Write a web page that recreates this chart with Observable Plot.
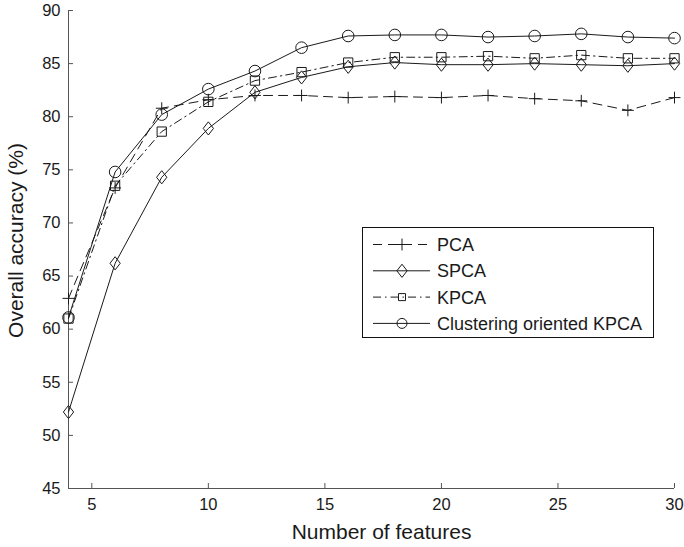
<!DOCTYPE html>
<html>
<head>
<meta charset="utf-8">
<script src="https://cdn.jsdelivr.net/npm/d3@7"></script>
<script src="https://cdn.jsdelivr.net/npm/@observablehq/plot@0.6"></script>
<style>
  body { margin: 0; background: #fff; }
  #wrap { position: relative; width: 684px; height: 547px; font-family: "Liberation Sans", Arial, sans-serif; }
  #legend { position: absolute; left: 362px; top: 227px; }
</style>
</head>
<body>
<div id="wrap"></div>
<script>
const features = [4, 6, 8, 10, 12, 14, 16, 18, 20, 22, 24, 26, 28, 30];
const seriesNames = ["PCA", "SPCA", "KPCA", "Clustering oriented KPCA"];
const pca   = [62.9, 73.3, 80.8, 81.6, 82.0, 82.0, 81.8, 81.9, 81.8, 82.0, 81.7, 81.5, 80.6, 81.8];
const spca  = [52.2, 66.2, 74.3, 78.9, 82.3, 83.7, 84.7, 85.1, 84.9, 84.9, 85.0, 84.9, 84.8, 85.0];
const kpca  = [61.0, 73.5, 78.6, 81.4, 83.4, 84.2, 85.1, 85.6, 85.6, 85.7, 85.5, 85.8, 85.5, 85.5];
const ckpca = [61.1, 74.8, 80.2, 82.6, 84.3, 86.5, 87.6, 87.7, 87.7, 87.5, 87.6, 87.8, 87.5, 87.4];
const xTicks = [5, 10, 15, 20, 25, 30];
const yTicks = [45, 50, 55, 60, 65, 70, 75, 80, 85, 90];
const xLabel = "Number of features";
const yLabel = "Overall accuracy (%)";

const values = [pca, spca, kpca, ckpca];
const data = [];
seriesNames.forEach((s, i) => features.forEach((f, j) => data.push({series: s, x: f, y: values[i][j]})));

// tall diamond symbol
const tallDiamond = {
  draw(ctx, size) {
    const r = Math.sqrt(size) * 0.62;
    const w = r * 0.78;
    ctx.moveTo(0, -r); ctx.lineTo(w, 0); ctx.lineTo(0, r); ctx.lineTo(-w, 0); ctx.closePath();
  }
};

const styles = {
  "PCA": {dash: "9,6", symbol: "plus", r: 3.9},
  "SPCA": {dash: null, symbol: tallDiamond, r: 6},
  "KPCA": {dash: "8,4,1.5,4", symbol: "square2", r: 5.9},
  "Clustering oriented KPCA": {dash: null, symbol: "circle", r: 5.8}
};
const ink = "#1a1a1a";
const font = "Liberation Sans, Arial, sans-serif";

const marks = [
  Plot.ruleX([4], {stroke: "#555"}),
  Plot.ruleY([45], {stroke: "#555"}),
  Plot.axisX(xTicks, {tickSize: -5, tickPadding: 15, stroke: "#555", color: ink, fontSize: 16.5, label: null}),
  Plot.axisY(yTicks, {tickSize: -5, tickPadding: 13, stroke: "#555", color: ink, fontSize: 16.5, label: null}),
  Plot.text([xLabel], {frameAnchor: "bottom", textAnchor: "middle", lineAnchor: "bottom", dy: 50, dx: 10, fontSize: 21, fill: ink, text: d => d}),
  Plot.text([yLabel], {frameAnchor: "left", textAnchor: "middle", lineAnchor: "bottom", rotate: -90, dx: -46, dy: -9, fontSize: 21, fill: ink, text: d => d})
];
for (const s of seriesNames) {
  const st = styles[s];
  const d = data.filter(r => r.series === s);
  marks.push(Plot.line(d, {x: "x", y: "y", stroke: ink, strokeWidth: 1, strokeDasharray: st.dash || undefined}));
  marks.push(Plot.dot(d, {x: "x", y: "y", symbol: () => st.symbol, r: st.r, stroke: ink, fill: "none", strokeWidth: 1}));
}

const chart = Plot.plot({
  width: 684, height: 547,
  marginLeft: 68, marginRight: 10, marginTop: 10, marginBottom: 59,
  x: {domain: [4, 30]},
  y: {domain: [45, 90]},
  symbol: {type: "identity"},
  style: {fontFamily: font, fontSize: "16px", color: ink, background: "#fff"},
  marks
});
const wrap = document.getElementById("wrap");
wrap.appendChild(chart);

// legend
const lw = 291, lh = 110;
const leg = d3.create("svg").attr("id", "legend").attr("width", lw + 1).attr("height", lh + 1);
leg.append("rect").attr("x", 0.5).attr("y", 0.5).attr("width", lw).attr("height", lh)
  .attr("fill", "#fff").attr("stroke", "#111");
const symPath = {
  "PCA": d3.symbol(d3.symbolPlus, Math.PI * 3.9 * 3.9)(),
  "SPCA": d3.symbol(tallDiamond, Math.PI * 36)(),
  "KPCA": d3.symbol(d3.symbolSquare2, Math.PI * 20)(),
  "Clustering oriented KPCA": d3.symbol(d3.symbolCircle, Math.PI * 25)()
};
seriesNames.forEach((s, i) => {
  const cy = 17.5 + i * 26.3;
  const g = leg.append("g");
  g.append("line").attr("x1", 11).attr("x2", 68).attr("y1", cy).attr("y2", cy)
    .attr("stroke", ink).attr("stroke-dasharray", styles[s].dash || null);
  g.append("path").attr("d", symPath[s]).attr("transform", `translate(40,${cy})`)
    .attr("fill", "none").attr("stroke", ink);
  g.append("text").attr("x", 75).attr("y", cy).attr("dy", "0.36em")
    .attr("font-size", 18).attr("fill", ink)
    .attr("font-family", font).text(s);
});
wrap.appendChild(leg.node());
</script>
</body>
</html>
